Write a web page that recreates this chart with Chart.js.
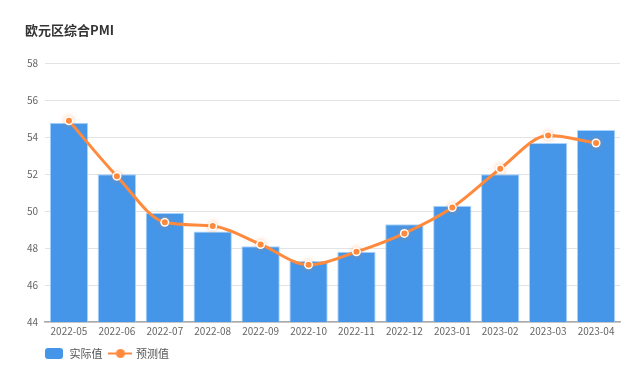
<!DOCTYPE html>
<html>
<head>
<meta charset="utf-8">
<script src="https://cdn.jsdelivr.net/npm/chart.js@4"></script>
<style>
  html, body { margin: 0; padding: 0; background: #fff; }
  #wrap { width: 640px; height: 369px; }
</style>
</head>
<body>
<div id="wrap"><canvas id="chart" width="640" height="369"></canvas></div>
<script>
// data
const months = ['2022-05','2022-06','2022-07','2022-08','2022-09','2022-10','2022-11','2022-12','2023-01','2023-02','2023-03','2023-04'];
const actual = [54.8, 52.0, 49.9, 48.9, 48.1, 47.3, 47.8, 49.3, 50.3, 52.0, 53.7, 54.4];
const forecast = [54.9, 51.9, 49.4, 49.2, 48.2, 47.1, 47.8, 48.8, 50.2, 52.3, 54.1, 53.7];
const yTicks = [44, 46, 48, 50, 52, 54, 56, 58];

const BLUE = '#4596E8';
const ORANGE = '#FF8A3D';
const FONT = '"Noto Sans CJK SC", "Noto Sans", sans-serif';

// legend icons
function barIcon() {
  const c = document.createElement('canvas');
  c.width = 18; c.height = 11;
  const g = c.getContext('2d');
  g.fillStyle = BLUE;
  g.beginPath();
  g.roundRect(0, 0, 18, 11, 3);
  g.fill();
  return c;
}
function lineIcon() {
  const c = document.createElement('canvas');
  c.width = 24; c.height = 11;
  const g = c.getContext('2d');
  g.strokeStyle = ORANGE;
  g.lineWidth = 2;
  g.beginPath(); g.moveTo(0, 5.5); g.lineTo(24, 5.5); g.stroke();
  g.fillStyle = ORANGE;
  g.beginPath(); g.arc(12, 5.5, 4.5, 0, Math.PI * 2); g.fill();
  return c;
}

// push legend right so it lines up with the plot
const legendShift = {
  id: 'legendShift',
  afterLayout(chart) {
    chart.legend.left += 11;
  }
};

// soft glow round the line points
const pointGlow = {
  id: 'pointGlow',
  afterDatasetsDraw(chart) {
    const g = chart.ctx;
    const meta = chart.getDatasetMeta(0);
    g.save();
    meta.data.forEach(p => {
      g.shadowColor = 'rgba(255,120,40,0.45)';
      g.shadowBlur = 5;
      g.fillStyle = '#fff';
      g.beginPath(); g.arc(p.x, p.y, 4.5, 0, Math.PI * 2); g.fill();
      g.shadowBlur = 0;
      g.fillStyle = ORANGE;
      g.beginPath(); g.arc(p.x, p.y, 3, 0, Math.PI * 2); g.fill();
    });
    g.restore();
  }
};

const ctx = document.getElementById('chart').getContext('2d');
const myChart = new Chart(ctx, {
  data: {
    labels: months,
    datasets: [
      {
        type: 'line',
        label: '预测值',
        data: forecast,
        borderColor: ORANGE,
        borderWidth: 3,
        cubicInterpolationMode: 'monotone',
        pointRadius: 0,
        order: 0
      },
      {
        type: 'bar',
        label: '实际值',
        data: actual,
        backgroundColor: BLUE,
        borderColor: 'rgba(150,200,255,0.8)',
        borderWidth: 1,
        categoryPercentage: 1,
        barPercentage: 0.8,
        order: 1
      }
    ]
  },
  plugins: [legendShift, pointGlow],
  options: {
    responsive: false,
    animation: false,
    layout: { padding: { left: 25, right: 20, bottom: 0 } },
    plugins: {
      title: {
        display: true,
        text: '欧元区综合PMI',
        align: 'start',
        color: '#333',
        font: { family: FONT, size: 13, weight: 'bold' },
        padding: { top: 22, bottom: 26 }
      },
      legend: {
        position: 'bottom',
        align: 'start',
        labels: {
          color: '#555',
          font: { family: FONT, size: 11 },
          usePointStyle: true,
          pointStyleWidth: 20,
          padding: 8,
          generateLabels: (chart) => {
            return [
              { text: '实际值', pointStyle: barIcon(), datasetIndex: 1, fontColor: '#555', lineWidth: 0, strokeStyle: 'transparent' },
              { text: '预测值', pointStyle: lineIcon(), datasetIndex: 0, fontColor: '#555', lineWidth: 0, strokeStyle: 'transparent' }
            ];
          }
        }
      },
      tooltip: { enabled: false }
    },
    scales: {
      x: {
        grid: { display: false, drawTicks: false },
        border: { color: '#aaa', width: 1.5 },
        ticks: { color: '#666', font: { family: FONT, size: 10 }, padding: 3, maxRotation: 0, autoSkip: false }
      },
      y: {
        min: 44,
        max: 58,
        afterBuildTicks: (scale) => { scale.ticks = yTicks.map(v => ({ value: v })); },
        afterFit: (scale) => { scale.width = 20; },
        grid: { color: '#e3e3e3', drawTicks: false },
        border: { display: false },
        ticks: { color: '#666', font: { family: FONT, size: 10 }, padding: 7 }
      }
    }
  }
});
</script>
</body>
</html>
